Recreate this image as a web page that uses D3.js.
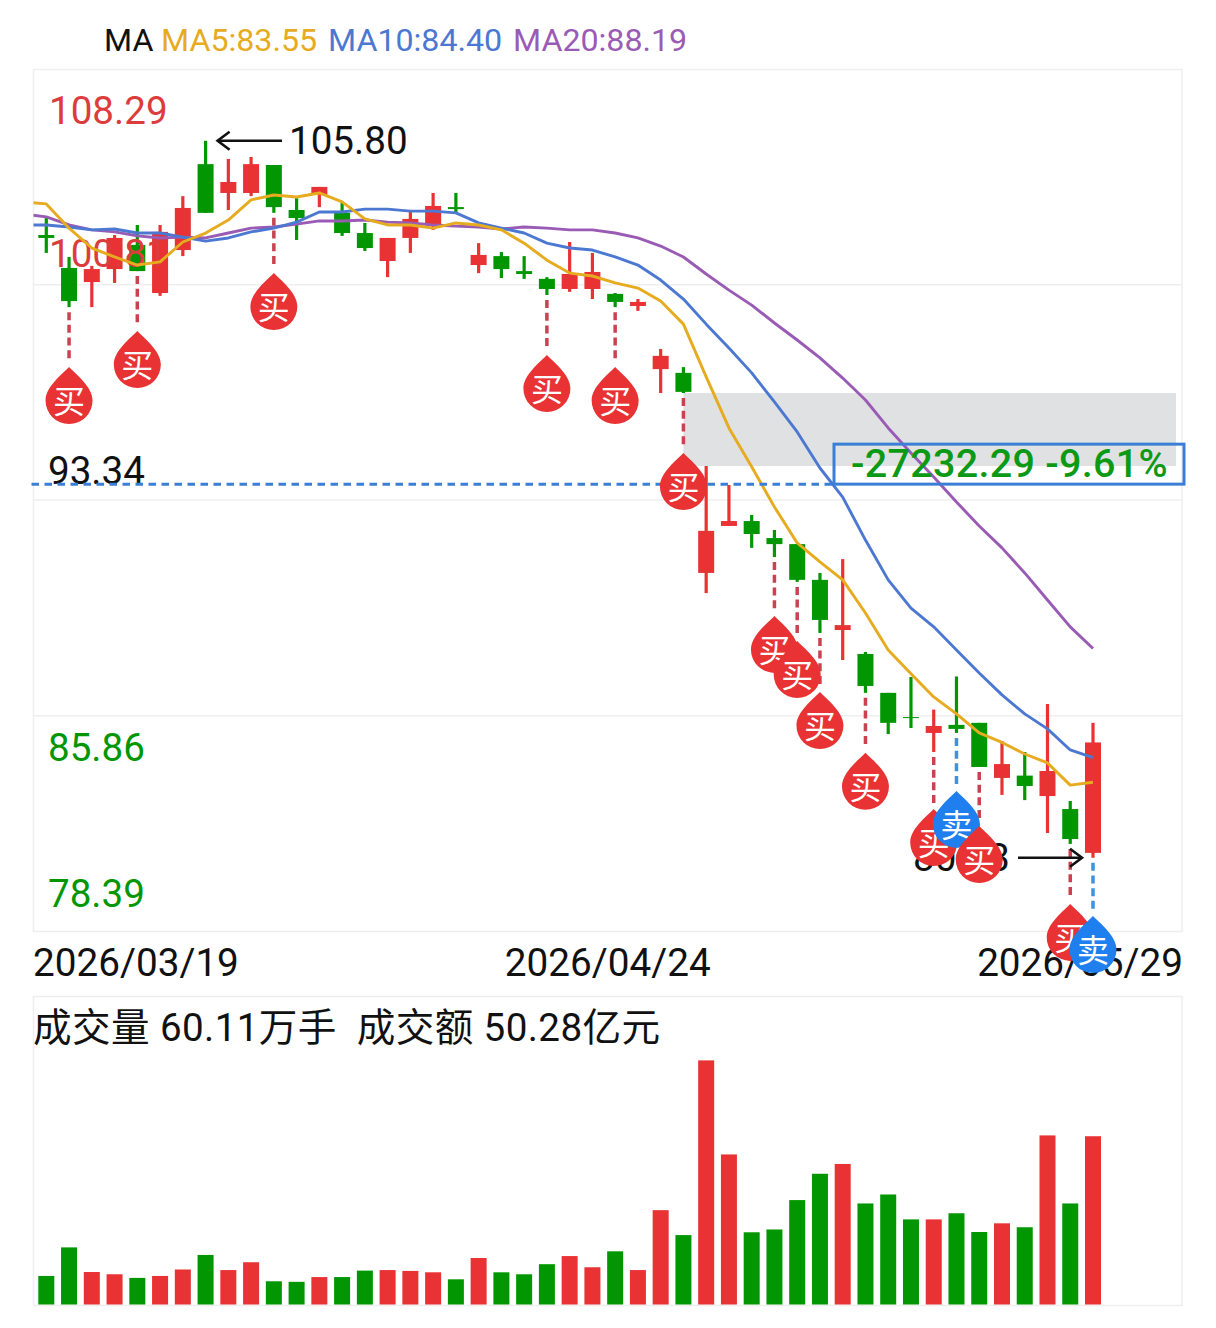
<!DOCTYPE html>
<html>
<head>
<meta charset="utf-8">
<script src="https://cdn.jsdelivr.net/npm/d3@7"></script>
<style>
  html, body { margin: 0; padding: 0; background: #fff; }
  svg { display: block; }
  text { font-family: Roboto, "Noto Sans CJK SC", sans-serif; }
</style>
</head>
<body>
<svg id="chart" width="1216" height="1328"></svg>
<script>
// Daily OHLC, one entry per session
const opens  = [102.53,101.39,100.90,101.35,102.19,100.52,102.01,104.99,103.99,103.99,104.96,103.40,103.92,103.30,102.60,101.63,102.43,102.91,103.50,101.49,101.80,101.28,101.01,100.66,100.66,100.49,100.07,97.88,97.75,90.81,92.44,92.61,92.02,91.81,90.57,88.83,88.00,86.65,85.81,85.26,85.54,85.61,83.70,83.78,83.07,82.62,81.10];
const highs  = [103.16,101.77,101.46,102.53,102.88,102.88,103.88,105.80,105.17,105.24,104.96,103.81,104.20,103.64,102.95,102.43,103.33,103.99,103.99,102.25,101.94,101.80,101.07,102.29,101.91,100.52,100.31,98.58,97.95,94.52,93.86,92.82,92.30,91.81,90.81,91.29,88.07,86.65,87.20,86.07,87.22,85.61,84.98,84.60,86.26,82.90,85.61];
const lows   = [101.91,100.03,100.03,100.87,101.28,100.42,101.80,103.30,103.40,103.88,103.30,102.36,103.50,102.50,101.98,101.07,101.91,102.71,103.30,101.21,101.04,101.01,100.45,100.56,100.31,100.03,99.90,97.05,97.05,90.11,92.44,91.68,91.36,90.50,88.73,87.79,86.65,85.22,85.43,84.60,85.26,84.08,83.11,82.93,81.79,81.41,80.93];
const closes = [102.43,100.24,101.35,102.43,101.28,102.64,103.47,103.30,104.37,104.99,103.50,103.12,104.20,102.60,102.08,102.43,103.09,103.54,103.43,101.84,101.35,101.18,100.66,101.18,101.25,100.21,100.21,98.34,97.09,92.27,92.61,92.16,91.81,90.57,89.18,89.00,86.89,85.61,85.78,85.50,85.40,84.08,84.18,83.42,83.94,81.58,84.93];

// Volume in 万手
const volumes = [10.2,20.4,11.6,10.8,9.5,10.2,12.5,17.7,12.3,15.1,8.3,8.1,9.8,9.8,12.1,12.3,12.0,11.5,9.0,16.6,11.5,10.8,14.4,17.3,13.3,19.0,12.3,33.7,24.8,87.2,53.6,25.8,26.8,37.3,46.7,50.2,36.1,39.3,30.4,30.4,32.6,25.9,29.0,27.6,60.4,36.1,60.11];

// Moving averages; each list opens with the value of the session before the window
const ma5  = [103.68,103.61,102.77,102.08,101.77,101.49,101.60,102.29,102.60,103.05,103.75,103.92,103.85,103.99,103.68,103.09,102.88,102.88,102.77,102.95,102.88,102.71,102.25,101.66,101.21,101.11,100.87,100.69,100.24,99.44,97.61,95.84,94.49,93.10,91.85,91.19,90.57,89.42,88.14,87.31,86.51,85.92,85.26,84.93,84.53,84.22,83.45,83.55];
const ma10 = [102.88,102.88,102.81,102.71,102.74,102.60,102.60,102.46,102.32,102.43,102.64,102.77,102.98,103.33,103.33,103.43,103.43,103.36,103.36,103.30,102.95,102.77,102.60,102.25,102.08,102.01,101.77,101.49,100.97,100.31,99.44,98.61,97.75,96.74,95.70,94.45,93.44,91.95,90.57,89.59,88.94,88.14,87.34,86.58,85.92,85.40,84.67,84.40];
const ma20 = [103.26,103.16,102.88,102.71,102.64,102.50,102.43,102.46,102.43,102.60,102.77,102.81,102.91,103.02,103.02,103.05,102.98,102.95,102.88,102.84,102.81,102.74,102.81,102.77,102.71,102.71,102.60,102.43,102.15,101.77,101.18,100.62,100.10,99.48,98.89,98.27,97.57,96.81,95.84,94.97,94.14,93.27,92.44,91.68,90.81,89.87,88.94,88.19];

const priceTicks = [108.29, 100.81, 93.34, 85.86, 78.39];
const dateLabels = ["2026/03/19", "2026/04/24", "2026/05/29"];

// Trade signals: session index and the price level of the marker tip
const buyIndex  = [1, 4, 10, 22, 25, 28, 32, 33, 34, 36, 39, 41, 45];
const buyPrice  = [97.95, 99.20, 101.21, 98.37, 97.95, 94.97, 89.32, 88.45, 86.68, 84.57, 82.62, 82.03, 79.33];
const sellIndex = [40, 46];
const sellPrice = [83.25, 78.91];

const costPrice = 93.89;
const gapTop = 97.05, gapBottom = 94.52;
const profitText = "-27232.29 -9.61%";
const volumeText = "成交量 60.11万手  成交额 50.28亿元";
const highestValue = 105.80, lowestValue = 80.93;

const RED = "#e83233", GREEN = "#029702", LABEL_RED = "#dc3c3c";
const MA_COLORS = ["#e6ab1f", "#4c78d2", "#9a5bb5"];
const GRID = "#efefef";

const svg = d3.select("#chart");
const paneLeft = 33.5, paneRight = 1182;
const x = d3.scaleLinear().domain([0, 46]).range([46.3, 1093]);
const y = d3.scaleLinear().domain([78.39, 108.29]).range([931, 69]);
const yVol = d3.scaleLinear().domain([0, 110.2]).range([1304.5, 996]);
const days = d3.range(opens.length);
const up = i => closes[i] >= opens[i];

svg.append("defs").append("clipPath").attr("id", "pane")
  .append("rect").attr("x", paneLeft).attr("y", 69)
  .attr("width", paneRight - paneLeft).attr("height", 862);

// Pane frames and horizontal grid
[[69, 931], [996, 1305]].forEach(([t, b]) => {
  svg.append("rect").attr("x", paneLeft).attr("y", t + 0.5)
    .attr("width", paneRight - paneLeft).attr("height", b - t)
    .attr("fill", "none").attr("stroke", GRID).attr("stroke-width", 1.5);
});
svg.append("g").selectAll("line").data(priceTicks.slice(1, 4)).join("line")
  .attr("x1", paneLeft).attr("x2", paneRight)
  .attr("y1", d => y(d)).attr("y2", d => y(d))
  .attr("stroke", GRID).attr("stroke-width", 1.5);

// Gap zone between the two sessions around the sharp drop
svg.append("rect").attr("x", x(28)).attr("width", 1176 - x(28))
  .attr("y", y(gapTop)).attr("height", y(gapBottom) - y(gapTop))
  .attr("fill", "#e0e1e3");

// Signal drop lines sit under the candles
const signals = buyIndex.map((d, k) => ({ i: d, p: buyPrice[k], c: RED, line: "#c9424f", t: "买" }))
  .concat(sellIndex.map((d, k) => ({ i: d, p: sellPrice[k], c: "#1f7fee", line: "#3f93dc", t: "卖" })))
  .sort((a, b) => a.i - b.i);
svg.append("g").selectAll("line").data(signals).join("line")
  .attr("x1", d => x(d.i)).attr("x2", d => x(d.i))
  .attr("y1", d => y(lows[d.i]) + 5).attr("y2", d => y(d.p) - 6)
  .attr("stroke", d => d.line).attr("stroke-width", 3.5).attr("stroke-dasharray", "8 4.7");

// Candles
const candles = svg.append("g").selectAll("g").data(days).join("g")
  .attr("fill", i => up(i) ? RED : GREEN).attr("stroke", i => up(i) ? RED : GREEN);
candles.append("line")
  .attr("x1", i => x(i)).attr("x2", i => x(i))
  .attr("y1", i => y(highs[i])).attr("y2", i => y(lows[i]))
  .attr("stroke-width", 3.2);
candles.append("rect")
  .attr("x", i => x(i) - 8).attr("width", 16)
  .attr("y", i => y(Math.max(opens[i], closes[i])))
  .attr("height", i => Math.max(1, Math.abs(y(opens[i]) - y(closes[i]))))
  .attr("stroke", "none");

// Price labels inside the pane
const labelOffset = [41, -31, -30, 32, -38];
const labelColor = [LABEL_RED, LABEL_RED, "#111", GREEN, GREEN];
svg.append("g").selectAll("text").data(priceTicks).join("text")
  .attr("x", (d, k) => k < 2 ? 49 : 48)
  .attr("y", (d, k) => y(d) + labelOffset[k] + 13.5)
  .attr("font-size", 38.6).attr("fill", (d, k) => labelColor[k])
  .text(d => d.toFixed(2));

// Moving averages
const maLine = d3.line().x((d, k) => x(k - 1)).y(d => y(d));
svg.append("g").attr("clip-path", "url(#pane)")
  .selectAll("path").data([ma5, ma10, ma20].reverse()).join("path")
  .attr("d", maLine).attr("fill", "none")
  .attr("stroke", (d, k) => MA_COLORS[2 - k]).attr("stroke-width", 2.9)
  .attr("stroke-linejoin", "round");

// Holding-cost line and profit box
svg.append("line").attr("x1", paneLeft - 2).attr("x2", 836)
  .attr("y1", y(costPrice)).attr("y2", y(costPrice))
  .attr("stroke", "#3a7fd5").attr("stroke-width", 3).attr("stroke-dasharray", "7.5 5.5");
svg.append("rect").attr("x", 834).attr("y", y(costPrice) - 40)
  .attr("width", 350).attr("height", 40)
  .attr("fill", "none").attr("stroke", "#3a7fd5").attr("stroke-width", 3);
svg.append("text").attr("x", 851).attr("y", y(costPrice) - 7)
  .attr("font-size", 39.5).attr("fill", "#0c9a16").attr("font-weight", 500)
  .attr("letter-spacing", 0.3).text(profitText);

// Header legend
const header = svg.append("g").attr("font-size", 32.2);
header.append("text").attr("x", 104).attr("y", 51).attr("fill", "#111").text("MA");
[["MA5", ma5, 161], ["MA10", ma10, 328], ["MA20", ma20, 513]].forEach(([name, s, px], k) => {
  header.append("text").attr("x", px).attr("y", 51).attr("fill", MA_COLORS[k])
    .text(`${name}:${s[s.length - 1].toFixed(2)}`);
});

// High and low call-outs
const arrow = (x1, x2, yy) => {
  const dir = x2 > x1 ? -1 : 1;
  const g = svg.append("g").attr("stroke", "#111").attr("fill", "none").attr("stroke-width", 2.6);
  g.append("line").attr("x1", x1).attr("x2", x2).attr("y1", yy).attr("y2", yy);
  g.append("path").attr("d", d3.line()([[x2 + dir * 12, yy - 9], [x2, yy], [x2 + dir * 12, yy + 9]]));
};
arrow(282, x(7) + 12, y(highestValue));
svg.append("text").attr("x", 289).attr("y", y(highestValue) + 13.5)
  .attr("font-size", 38.6).attr("fill", "#111").text(highestValue.toFixed(2));
arrow(1018, x(46) - 11, y(lowestValue));
svg.append("text").attr("x", 1010).attr("y", y(lowestValue) + 13.5).attr("text-anchor", "end")
  .attr("font-size", 38.6).attr("fill", "#111").text(lowestValue.toFixed(2));

// Date labels under the price pane
svg.append("g").selectAll("text").data(dateLabels).join("text")
  .attr("x", (d, k) => [33, (paneLeft + paneRight) / 2, 1183][k])
  .attr("y", 976)
  .attr("text-anchor", (d, k) => ["start", "middle", "end"][k])
  .attr("font-size", 38.7).attr("fill", "#111").text(d => d);

// Volume pane
svg.append("text").attr("x", 33).attr("y", 1041)
  .attr("font-size", 38.6).attr("fill", "#111").attr("letter-spacing", 0.4)
  .style("white-space", "pre").text(volumeText);
svg.append("g").selectAll("rect").data(days).join("rect")
  .attr("x", i => x(i) - 8).attr("width", 16)
  .attr("y", i => yVol(volumes[i]))
  .attr("height", i => yVol(0) - yVol(volumes[i]))
  .attr("fill", i => up(i) ? RED : GREEN);

// Teardrop markers, drawn last so they cover the labels
const drop = "M0,0C6,6.5 23.5,19.5 23.5,33.5A23.5,23.5 0 1 1 -23.5,33.5C-23.5,19.5 -6,6.5 0,0Z";
const marks = svg.append("g").selectAll("g").data(signals).join("g")
  .attr("transform", d => `translate(${x(d.i)},${y(d.p)})`);
marks.append("path").attr("d", drop).attr("fill", d => d.c);
marks.append("text").attr("y", 46).attr("text-anchor", "middle")
  .attr("font-size", 32).attr("font-weight", 400).attr("fill", "#fff").text(d => d.t);
</script>
</body>
</html>
